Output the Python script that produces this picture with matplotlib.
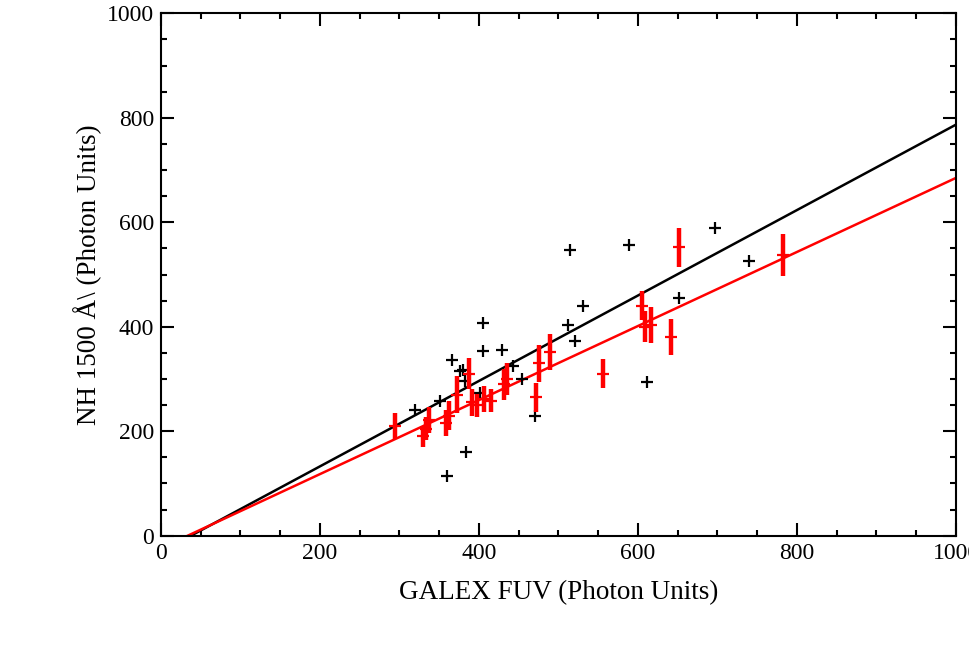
import matplotlib
matplotlib.use("Agg")
import matplotlib.pyplot as plt
from matplotlib.ticker import MultipleLocator
import numpy as np

plt.rcParams['font.family'] = ['Liberation Serif', 'DejaVu Serif']

# black crosses (all points)
fuv_all = [319, 351, 360, 366, 376, 380, 382, 384, 401, 405, 405, 429, 443,
           454, 470, 512, 521, 514, 531, 589, 612, 651, 697, 740]
nh_all = [240, 257, 114, 337, 316, 318, 296, 161, 273, 408, 354, 356, 325,
          300, 229, 404, 372, 546, 439, 557, 294, 455, 590, 525]

# red points with errors
fuv_sel = [295, 330, 333, 337, 358, 363, 372, 387, 391, 397, 406, 415, 431,
           435, 472, 476, 490, 556, 605, 609, 617, 641, 652, 782]
nh_sel = [210, 190, 205, 222, 215, 230, 270, 310, 255, 250, 262, 258, 290,
          300, 265, 330, 352, 310, 440, 400, 403, 380, 552, 537]
nh_err = [25, 20, 22, 25, 25, 28, 35, 30, 25, 22, 25, 22, 30,
          30, 28, 35, 35, 28, 28, 30, 35, 35, 38, 40]

# linear fits (slope, intercept)
fit_all = (0.818, -31.0)
fit_sel = (0.709, -24.0)

fig = plt.figure(figsize=(9.69, 6.45), dpi=100)
ax = fig.add_axes([0.166, 0.1695, 0.8206, 0.8098])

xx = np.array([0, 1000])
ax.plot(xx, fit_all[0]*xx + fit_all[1], color='k', lw=1.8)
ax.plot(xx, fit_sel[0]*xx + fit_sel[1], color='red', lw=1.8)

ax.plot(fuv_all, nh_all, 'k+', ms=9, mew=1.6)
ax.errorbar(fuv_sel, nh_sel, yerr=nh_err, fmt='+', color='red', ms=9,
            mew=1.6, elinewidth=3.2, capsize=0)

ax.set_xlim(0, 1000)
ax.set_ylim(0, 1000)
ax.xaxis.set_major_locator(MultipleLocator(200))
ax.xaxis.set_minor_locator(MultipleLocator(50))
ax.yaxis.set_major_locator(MultipleLocator(200))
ax.yaxis.set_minor_locator(MultipleLocator(50))
ax.tick_params(which='both', direction='in', top=True, right=True,
               width=1.5, labelsize=17, pad=5)
ax.tick_params(which='major', length=9.5)
ax.tick_params(which='minor', length=4.5)
for s in ax.spines.values():
    s.set_linewidth(1.5)

ax.set_xlabel('GALEX FUV (Photon Units)', fontsize=19.5, labelpad=12)
ax.set_ylabel('NH 1500 \u00c5\\ (Photon Units)', fontsize=19.5, labelpad=3)

fig.savefig('out.png', dpi=100)
